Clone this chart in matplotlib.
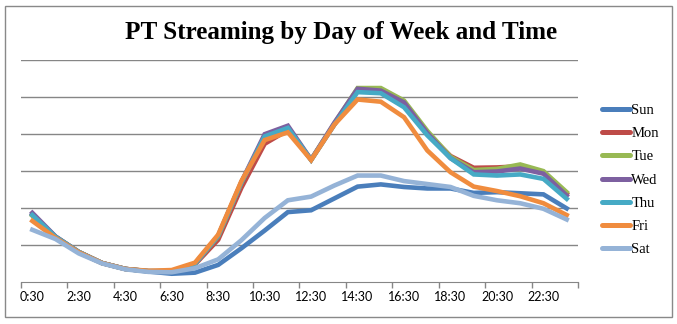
import matplotlib
matplotlib.use("Agg")
import matplotlib.pyplot as plt
from matplotlib.patches import Rectangle

hours = ["%d:30" % h for h in range(24)]

sun = [1.82, 1.20, 0.79, 0.50, 0.34, 0.27, 0.21, 0.24, 0.45, 0.90, 1.38, 1.88,
       1.93, 2.25, 2.57, 2.63, 2.56, 2.52, 2.52, 2.40, 2.42, 2.39, 2.36, 1.98]
mon = [1.80, 1.21, 0.80, 0.50, 0.34, 0.28, 0.27, 0.46, 1.13, 2.54, 3.73, 4.10,
       3.30, 4.25, 5.18, 5.15, 4.85, 4.02, 3.40, 3.08, 3.09, 3.12, 2.95, 2.38]
tue = [1.78, 1.21, 0.80, 0.50, 0.34, 0.28, 0.28, 0.48, 1.22, 2.68, 3.92, 4.16,
       3.30, 4.28, 5.24, 5.24, 4.90, 4.08, 3.38, 3.02, 3.05, 3.17, 2.99, 2.42]
wed = [1.86, 1.22, 0.80, 0.50, 0.34, 0.28, 0.28, 0.48, 1.24, 2.70, 3.99, 4.22,
       3.30, 4.30, 5.22, 5.17, 4.85, 4.02, 3.34, 2.96, 2.98, 3.06, 2.92, 2.33]
thu = [1.80, 1.21, 0.80, 0.50, 0.34, 0.28, 0.28, 0.48, 1.24, 2.68, 3.93, 4.16,
       3.29, 4.25, 5.13, 5.10, 4.72, 3.96, 3.34, 2.90, 2.87, 2.90, 2.78, 2.24]
fri = [1.64, 1.18, 0.79, 0.50, 0.34, 0.29, 0.31, 0.51, 1.27, 2.72, 3.83, 4.04,
       3.29, 4.25, 4.93, 4.87, 4.45, 3.55, 2.96, 2.57, 2.45, 2.31, 2.12, 1.80]
sat = [1.40, 1.15, 0.76, 0.49, 0.33, 0.26, 0.25, 0.36, 0.60, 1.12, 1.72, 2.20,
       2.30, 2.60, 2.87, 2.87, 2.72, 2.64, 2.56, 2.32, 2.20, 2.12, 1.97, 1.68]

days = ["Sun", "Mon", "Tue", "Wed", "Thu", "Fri", "Sat"]
series = [sun, mon, tue, wed, thu, fri, sat]
colors = ["#4A7EBB", "#BE4B48", "#98B954", "#7D60A0", "#46AAC5", "#F08C3E", "#95B3D7"]

fig = plt.figure(figsize=(6.77, 3.24), dpi=100)
ax = fig.add_axes([20.7 / 677, 1 - 281.5 / 324, (578.3 - 20.7) / 677, (281.5 - 60) / 324])

x = list(range(len(hours)))
for name, vals, c in zip(days, series, colors):
    ax.plot(x, vals, color=c, lw=3.3, label=name, solid_joinstyle="miter")

ax.set_xlim(-0.5, 23.5)
ax.set_ylim(0, 6)
ax.set_yticks(range(1, 7))
ax.yaxis.grid(True, color="#868686", lw=1)
ax.set_axisbelow(True)
ax.tick_params(axis="y", left=False, labelleft=False)

# tick marks between categories, labels on every other category
ax.set_xticks([i - 0.5 for i in range(0, 25, 2)])
ax.set_xticklabels([])
ax.set_xticks(x[::2], minor=True)
ax.set_xticklabels(hours[::2], minor=True, fontfamily="Lato", fontsize=9)
ax.tick_params(axis="x", which="major", direction="out", length=4, color="#868686", width=1)
ax.tick_params(axis="x", which="minor", length=0, pad=7)

for s in ["left", "right", "top"]:
    ax.spines[s].set_visible(False)
ax.spines["bottom"].set_color("#868686")

leg = ax.legend(loc="center left", bbox_to_anchor=(601.7 / 677, 1 - 180 / 324),
                bbox_transform=fig.transFigure, frameon=False, borderpad=0,
                borderaxespad=0, handlelength=1.92, handletextpad=0.12,
                labelspacing=0.68, prop={"family": "Liberation Serif", "size": 10.5})
for line in leg.get_lines():
    line.set_linewidth(3.6)
    line.set_solid_capstyle("round")

fig.text(341 / 677, 1 - 32 / 324, "PT Streaming by Day of Week and Time",
         ha="center", va="center", fontsize=18.1, fontweight="bold",
         fontfamily="Liberation Serif")

fig.patches.append(Rectangle((5 / 677, 1 - 317 / 324), 667 / 677, 311 / 324,
                             transform=fig.transFigure, fill=False,
                             edgecolor="#898989", lw=1))

fig.savefig("out.png", dpi=100)
